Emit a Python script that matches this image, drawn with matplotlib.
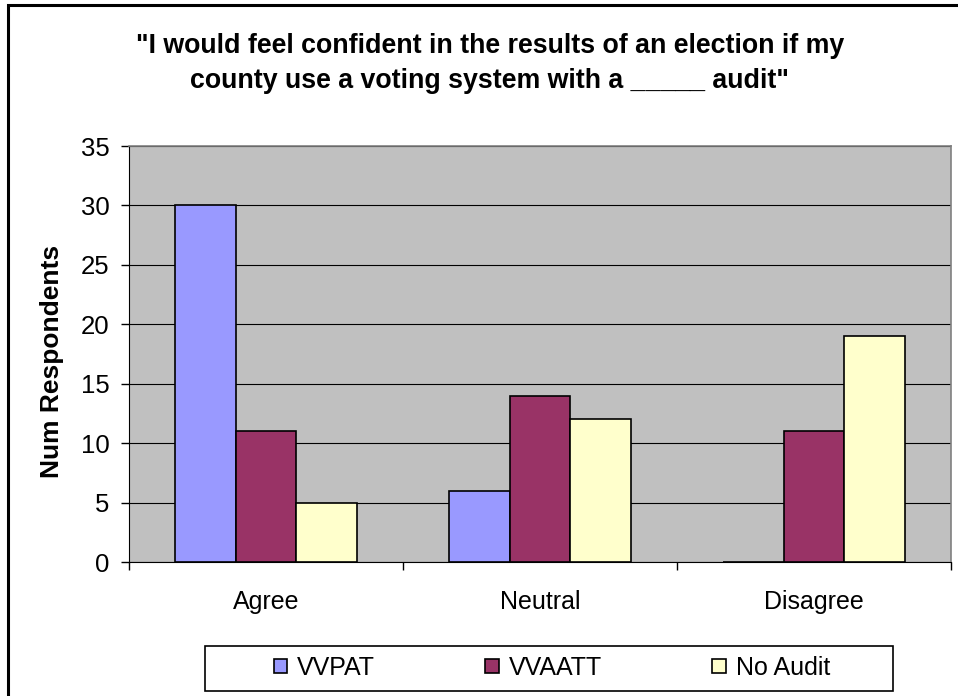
import numpy as np
import matplotlib
matplotlib.use("Agg")
import matplotlib.pyplot as plt
from matplotlib.patches import Rectangle

plt.rcParams['font.family'] = ['Liberation Sans', 'DejaVu Sans']

# data
categories = ['Agree', 'Neutral', 'Disagree']
series_names = ['VVPAT', 'VVAATT', 'No Audit']
vvpat = [30, 6, 0]
vvaatt = [11, 14, 11]
no_audit = [5, 12, 19]
colors = ['#9999FF', '#993366', '#FFFFCC']
y_ticks = [0, 5, 10, 15, 20, 25, 30, 35]

W, H = 958, 696
fig = plt.figure(figsize=(W / 100, H / 100), dpi=100)

# plot area in pixel coords (left, top, right, bottom)
L, T, R, B = 129, 146, 951, 562
ax = fig.add_axes([L / W, 1 - B / H, (R - L) / W, (B - T) / H])
ax.set_facecolor('#C0C0C0')

x = np.arange(len(categories))
bw = 1 / 4.5  # Excel gap width 150%
for i, (vals, name, c) in enumerate(zip([vvpat, vvaatt, no_audit], series_names, colors)):
    ax.bar(x + (i - 1) * bw, vals, width=bw, color=c, edgecolor='black',
           linewidth=1.2, label=name, zorder=3)

ax.set_xlim(-0.5, len(categories) - 0.5)
ax.set_ylim(0, 35)
ax.set_yticks(y_ticks)
ax.yaxis.grid(True, color='black', linewidth=0.8, zorder=1)
ax.set_axisbelow(True)

ax.set_xticks(x)
ax.set_xticklabels(categories)
ax.set_xticks(np.arange(len(categories) + 1) - 0.5, minor=True)
ax.tick_params(axis='x', which='major', length=0, pad=20, labelsize=18)
ax.tick_params(axis='x', which='minor', length=6, width=1, direction='out')
ax.tick_params(axis='y', length=6, width=1, direction='out', pad=8, labelsize=18.5)

for side in ['top', 'right']:
    ax.spines[side].set_color('#808080')
    ax.spines[side].set_linewidth(1.2)
ax.spines['left'].set_color('black')
ax.spines['bottom'].set_color('black')

# title and y label
fig.text(490 / W, 1 - 33 / H,
         '"I would feel confident in the results of an election if my\ncounty use a voting system with a _____ audit"',
         ha='center', va='top', fontsize=19.3, fontweight='bold', linespacing=1.45)
fig.text(52 / W, 1 - 361 / H, 'Num Respondents', rotation=90, ha='center',
         va='center', fontsize=19, fontweight='bold')

# legend with a hand-drawn frame
fig.patches.append(Rectangle((205 / W, 1 - 691 / H), 688 / W, 45 / H,
                             transform=fig.transFigure, facecolor='white',
                             edgecolor='black', linewidth=1.2, zorder=0))
fig.legend(loc='center', bbox_to_anchor=(552 / W, 1 - 668 / H), ncol=3,
           frameon=False, fontsize=18, handlelength=0.55, handleheight=0.45,
           handletextpad=0.4, columnspacing=4.4)

# outer chart border (left and top visible)
fig.patches.append(Rectangle((8 / W, -0.05), 1.1, 1.05 - 5 / H,
                             transform=fig.transFigure, fill=False,
                             edgecolor='black', linewidth=2.2))

fig.savefig('out.png', dpi=100)
